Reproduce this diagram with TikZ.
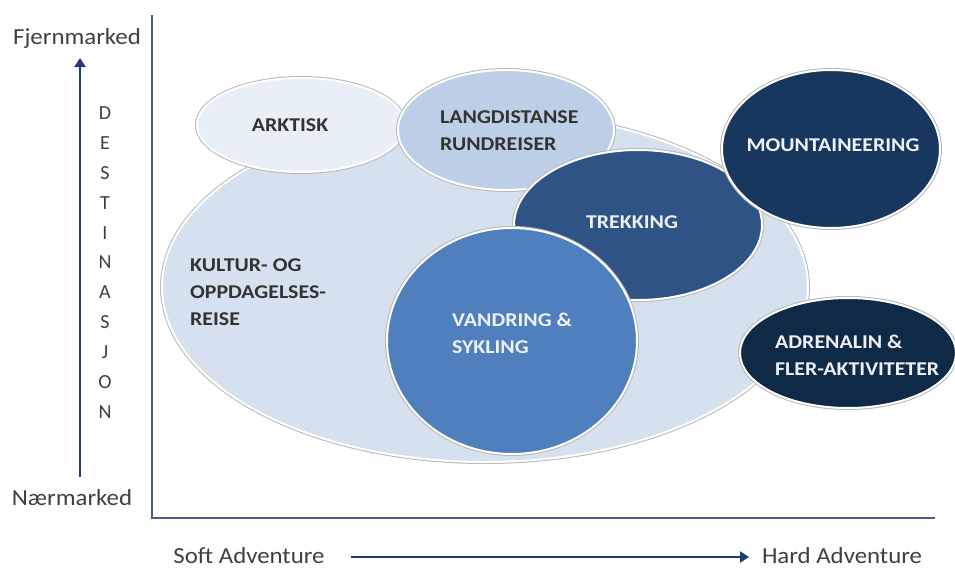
\documentclass[tikz,border=0pt]{standalone}
\usepackage{fontspec}
\setmainfont{Carlito}
\newfontfamily\lblfont[FakeStretch=1.12]{Carlito}
\newfontfamily\axfont[FakeStretch=1.08]{Carlito}
\usetikzlibrary{shapes.geometric,arrows.meta}
\definecolor{axisc}{HTML}{4A5C8E}
\definecolor{arrowc}{HTML}{1F3A78}
\definecolor{txtdark}{HTML}{333333}
\definecolor{txtgray}{HTML}{404040}
\definecolor{cKultur}{HTML}{D6E1EF}
\definecolor{cArktisk}{HTML}{E9EFF7}
\definecolor{cLang}{HTML}{BCCFE6}
\definecolor{cTrek}{HTML}{2F5385}
\definecolor{cVand}{HTML}{4F80BD}
\definecolor{cMount}{HTML}{17375E}
\definecolor{cAdren}{HTML}{0F2A47}
\definecolor{lightlbl}{HTML}{EEF2F8}
\tikzset{
  blob/.style={ellipse, draw=white, line width=2pt, inner sep=0pt,
    preaction={draw=black!28, line width=4pt}},
  lbl/.style={font=\lblfont\fontsize{19.5}{27}\selectfont\bfseries, align=left, inner sep=0pt},
  axislbl/.style={font=\axfont\fontsize{23}{26}\selectfont, text=txtgray, inner sep=0pt},
  destletter/.style={font=\fontsize{20}{22}\selectfont, text=txtgray, inner sep=0pt},
  axisline/.style={draw=axisc, line width=2pt},
  dirarrow/.style={draw=arrowc, line width=2.6pt, -{Triangle[length=9pt,width=11pt]}}
}
\begin{document}
\begin{tikzpicture}[x=1pt,y=-1pt]
\useasboundingbox (0,0) rectangle (955,570);
\fill[white] (0,0) rectangle (955,570);

% axes of the chart
\coordinate (ytop) at (152,15);
\coordinate (origin) at (152,518);
\coordinate (xend) at (935,518);
\draw[axisline] (ytop) -- (origin) -- (xend);

% destination direction
\node[axislbl] (fjern) at (77,38) {Fjernmarked};
\node[axislbl] (naer) at (72,498) {Nærmarked};
\coordinate (vbot) at (80,477);
\coordinate (vtop) at (80,58);
\draw[dirarrow] (vbot) -- (vtop);
\foreach \ch [count=\i from 0] in {D,E,S,T,I,N,A,S,J,O,N}
  \node[destletter] (dest\i) at (105,{113+29.9*\i}) {\ch};

% adventure direction
\node[axislbl] (soft) at (249,556) {Soft Adventure};
\node[axislbl] (hard) at (842,556) {Hard Adventure};
\coordinate (hleft) at (351,557);
\coordinate (hright) at (749,557);
\draw[dirarrow] (hleft) -- (hright);

% segment areas, back to front
\node[blob, fill=cKultur, minimum width=646pt, minimum height=350pt] (kultur) at (485,287) {};
\node[blob, fill=cAdren, minimum width=216pt, minimum height=110pt] (adren) at (848,353) {};
\node[blob, fill=cArktisk, minimum width=208pt, minimum height=94pt] (arktisk) at (301,125) {};
\node[blob, fill=cLang, minimum width=216pt, minimum height=120pt] (lang) at (506,130) {};
\node[blob, fill=cTrek, minimum width=248pt, minimum height=150pt] (trek) at (638,225) {};
\node[blob, fill=cMount, minimum width=218pt, minimum height=158pt] (mount) at (831,149) {};
\node[blob, fill=cVand, minimum width=250pt, minimum height=226pt] (vand) at (512,341) {};

% segment names
\node[lbl, text=txtdark, anchor=west] (tkultur) at (190,292) {KULTUR- OG\\OPPDAGELSES-\\REISE};
\node[lbl, text=txtdark] (tarktisk) at (290,125) {ARKTISK};
\node[lbl, text=txtdark, anchor=west] (tlang) at (440,131) {LANGDISTANSE\\RUNDREISER};
\node[lbl, text=lightlbl] (ttrek) at (632,222) {TREKKING};
\node[lbl, text=lightlbl] (tmount) at (833,145) {MOUNTAINEERING};
\node[lbl, text=lightlbl, anchor=west] (tvand) at (452,333) {VANDRING \&\\SYKLING};
\node[lbl, text=lightlbl, anchor=west] (tadren) at (775,355) {ADRENALIN \&\\FLER-AKTIVITETER};
\end{tikzpicture}
\end{document}
